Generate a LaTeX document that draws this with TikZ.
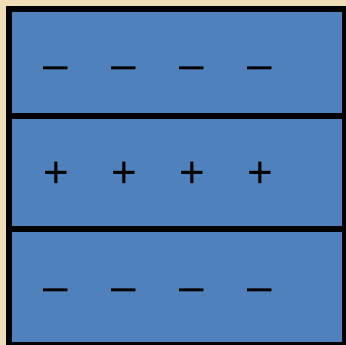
\documentclass[tikz,border=0pt]{standalone}
\usepackage{fontspec}
\setmainfont{Liberation Sans}
\usepackage{xcolor}
\definecolor{bandblue}{HTML}{4F81BD}
\definecolor{paper}{HTML}{EEDDB6}
\begin{document}
\begin{tikzpicture}[
  x=1pt, y=1pt,
  band/.style={draw=black, line width=6pt, fill=bandblue, minimum width=336pt,
               inner sep=0pt, anchor=center},
  charge/.style={font=\fontsize{44}{44}\selectfont, inner sep=0pt, text height=20pt,
                 text depth=0pt, anchor=center}
]
% background
\fill[paper] (0,0) rectangle (346,345);
\useasboundingbox (0,0) rectangle (346,345);
% three layers
\node[band, minimum height=107pt] (top) at (177,282.5) {};
\node[band, minimum height=113pt] (mid) at (177,172.5) {};
\node[band, minimum height=116pt] (bot) at (177,58) {};
% charges
\foreach \i/\x in {1/56,2/124,3/192,4/260} {
  \node[charge] (tm\i) at (\x,275) {–};
  \node[charge] (mp\i) at (\x,167) {+};
  \node[charge] (bm\i) at (\x,53) {–};
}
\end{tikzpicture}
\end{document}
